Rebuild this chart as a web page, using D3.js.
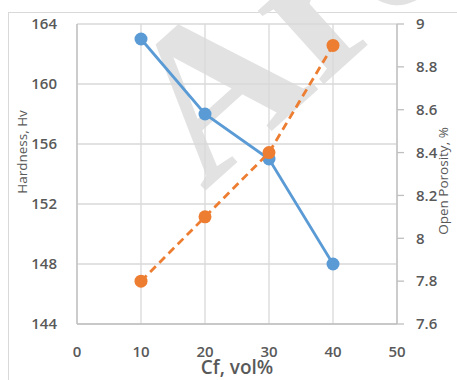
<!DOCTYPE html>
<html><head><meta charset="utf-8">
<script src="https://cdn.jsdelivr.net/npm/d3@7/dist/d3.min.js"></script>
<style>body{margin:0;background:#fff;} text{font-family:"Open Sans",sans-serif;}</style>
</head><body><svg id="c" width="457" height="380"></svg>
<script>
const cf = [10, 20, 30, 40];
const hardness = [163, 158, 155, 148];
const porosity = [7.8, 8.1, 8.4, 8.9];
const xTicks = [0, 10, 20, 30, 40, 50];
const yLeftTicks = [144, 148, 152, 156, 160, 164];
const yRightTicks = [7.6, 7.8, 8, 8.2, 8.4, 8.6, 8.8, 9];

const svg = d3.select("#c");
const L = 77, R = 397, T = 24, B = 324;
const x = d3.scaleLinear().domain([0, 50]).range([L, R]);
const yL = d3.scaleLinear().domain([144, 164]).range([B, T]);
const yR = d3.scaleLinear().domain([7.6, 9]).range([B, T]);

svg.append("rect").attr("x", 8.5).attr("y", 12.5).attr("width", 460).attr("height", 380)
  .attr("fill", "none").attr("stroke", "#d9d9d9");

// watermark
svg.append("text").attr("transform", "translate(204,192) rotate(-42)")
  .style("font-family", "'Liberation Serif',serif").attr("font-weight", "bold")
  .attr("font-size", 215).attr("fill", "#e2e2e2").text("Arc");

const g = svg.append("g");
g.selectAll(".hg").data(yLeftTicks).join("line")
  .attr("x1", L).attr("x2", R).attr("y1", d => yL(d)).attr("y2", d => yL(d))
  .attr("stroke", "#d9d9d9").attr("stroke-width", 1.3);
g.selectAll(".vg").data(xTicks).join("line")
  .attr("y1", T).attr("y2", B).attr("x1", d => x(d)).attr("x2", d => x(d))
  .attr("stroke", "#d9d9d9").attr("stroke-width", 1.3);

const ax = svg.append("g");
ax.append("line").attr("x1", L).attr("x2", L).attr("y1", T).attr("y2", B).attr("stroke", "#bfbfbf").attr("stroke-width", 1.3);
ax.append("line").attr("x1", L).attr("x2", R).attr("y1", B).attr("y2", B).attr("stroke", "#bfbfbf").attr("stroke-width", 1.3);
ax.append("line").attr("x1", R).attr("x2", R).attr("y1", T).attr("y2", B).attr("stroke", "#bfbfbf").attr("stroke-width", 1.3);
ax.selectAll(".rt").data(yRightTicks).join("line")
  .attr("x1", R).attr("x2", R + 7).attr("y1", d => yR(d)).attr("y2", d => yR(d))
  .attr("stroke", "#bfbfbf").attr("stroke-width", 1.3);

const tickStyle = sel => sel.attr("fill", "#595959").attr("font-size", 15).attr("font-weight", 600);
svg.selectAll(".lt").data(yLeftTicks).join("text").call(tickStyle)
  .attr("x", 57).attr("y", d => yL(d)).attr("dy", "0.35em").attr("text-anchor", "end").text(d => d);
svg.selectAll(".rtl").data(yRightTicks).join("text").call(tickStyle)
  .attr("x", 416).attr("y", d => yR(d)).attr("dy", "0.35em").attr("text-anchor", "start").text(d => d);
svg.selectAll(".xt").data(xTicks).join("text").call(tickStyle)
  .attr("x", d => x(d)).attr("y", 352).attr("dy", "0.35em").attr("text-anchor", "middle").text(d => d);

svg.append("text").attr("transform", "translate(27,152) rotate(-90)").attr("text-anchor", "middle")
  .attr("fill", "#595959").attr("font-size", 13.5).text("Hardness, Hv");
svg.append("text").attr("transform", "translate(448,181) rotate(-90)").attr("text-anchor", "middle")
  .attr("fill", "#595959").attr("font-size", 13.5).text("Open Porosity, %");
svg.append("text").attr("x", 237).attr("y", 374).attr("text-anchor", "middle")
  .attr("fill", "#595959").attr("font-size", 19).attr("font-weight", 600).text("Cf, vol%");

const hData = cf.map((c, i) => [c, hardness[i]]);
const pData = cf.map((c, i) => [c, porosity[i]]);
svg.append("path").datum(hData).attr("fill", "none").attr("stroke", "#5b9bd5").attr("stroke-width", 2.8)
  .attr("d", d3.line().x(d => x(d[0])).y(d => yL(d[1])));
svg.selectAll(".hp").data(hData).join("circle").attr("cx", d => x(d[0])).attr("cy", d => yL(d[1]))
  .attr("r", 6.5).attr("fill", "#5b9bd5");
svg.append("path").datum(pData).attr("fill", "none").attr("stroke", "#ed7d31").attr("stroke-width", 2.8)
  .attr("stroke-dasharray", "8,5")
  .attr("d", d3.line().x(d => x(d[0])).y(d => yR(d[1])));
svg.selectAll(".pp").data(pData).join("circle").attr("cx", d => x(d[0])).attr("cy", d => yR(d[1]))
  .attr("r", 6.5).attr("fill", "#ed7d31");
</script></body></html>
